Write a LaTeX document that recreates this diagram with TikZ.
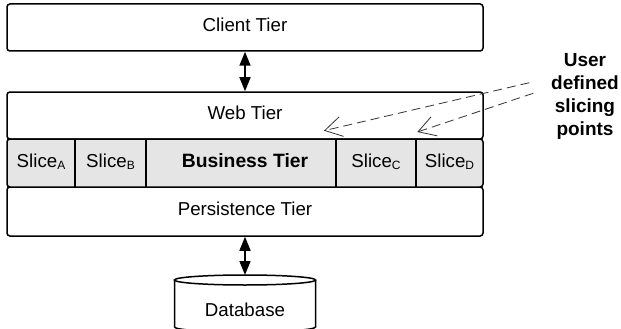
\documentclass[tikz,border=0pt]{standalone}
\usepackage{fontspec}
\setmainfont{Liberation Sans}
\usetikzlibrary{arrows.meta}
\newcommand\slsub[1]{\raisebox{-2.5pt}{\fontsize{12}{12}\selectfont #1}}
\begin{document}
\begin{tikzpicture}[x=1pt,y=-1pt,
  lbl/.style={font=\fontsize{18.7}{22}\selectfont, text height=13.5pt, text depth=5pt, inner sep=0pt},
  tier/.style={lbl, draw, line width=1.5pt, rounded corners=3pt, minimum width=476pt, minimum height=47pt},
  cell/.style={lbl, minimum height=48pt},
  divider/.style={line width=1.5pt},
  biarrow/.style={line width=1.5pt, {Triangle[length=14pt,width=11pt]}-{Triangle[length=14pt,width=11pt]}},
  slicearrow/.style={dash pattern=on 9pt off 5pt, line width=0.8pt, draw=black!80, -{Straight Barb[length=17pt,width=20pt]}}
]
\useasboundingbox (0,0) rectangle (621,329);
% tiers
\node[tier] (client) at (245,27.5) {Client Tier};
\node[tier] (web) at (245,115.5) {Web Tier};
\node[tier, minimum height=49pt] (pers) at (245,211.5) {Persistence Tier};
\node[tier, fill=black!10, minimum height=48pt] (row) at (245,163) {};
% cells
\node[cell, minimum width=68pt] (sA) at (41,163) {Slice\slsub{A}};
\node[cell, minimum width=71pt] (sB) at (110.5,163) {Slice\slsub{B}};
\node[cell, minimum width=190pt, font=\bfseries\fontsize{19.3}{22}\selectfont] (bt) at (241,163) {\hspace*{8pt}Business Tier};
\node[cell, minimum width=80pt] (sC) at (376,163) {Slice\slsub{C}};
\node[cell, minimum width=67pt] (sD) at (449.5,163) {Slice\slsub{D}};
\draw[divider] (sA.north east) -- (sA.south east);
\draw[divider] (sB.north east) -- (sB.south east);
\draw[divider] (bt.north east) -- (bt.south east);
\draw[divider] (sC.north east) -- (sC.south east);
% database
\coordinate (dbtop) at (245,275);
\draw[line width=1.5pt, fill=white] (174.5,280) -- (174.5,327) arc[start angle=180,end angle=360,x radius=70.5pt,y radius=5pt] -- (315.5,280);
\draw[line width=1.5pt, fill=white] (245,280) ellipse [x radius=70.5pt, y radius=5pt];
\node[font=\fontsize{18.7}{22}\selectfont, inner sep=0pt, text height=13.5pt, text depth=0pt] (db) at (245,310) {Database};
% arrows
\draw[biarrow] (client.south) -- (web.north);
\draw[biarrow] (pers.south) -- (dbtop);
% slicing points
\node[anchor=north, inner sep=0pt, align=center, font=\bfseries\fontsize{19}{23}\selectfont] (note) at (585,53) {User\\defined\\slicing\\points};
\coordinate (p1) at (529.3,82.7);
\coordinate (t1) at (324,130.7);
\coordinate (p2) at (533.3,93.3);
\coordinate (t2) at (417.3,132);
\draw[slicearrow] (p1) -- (t1);
\draw[slicearrow] (p2) -- (t2);
\end{tikzpicture}
\end{document}
